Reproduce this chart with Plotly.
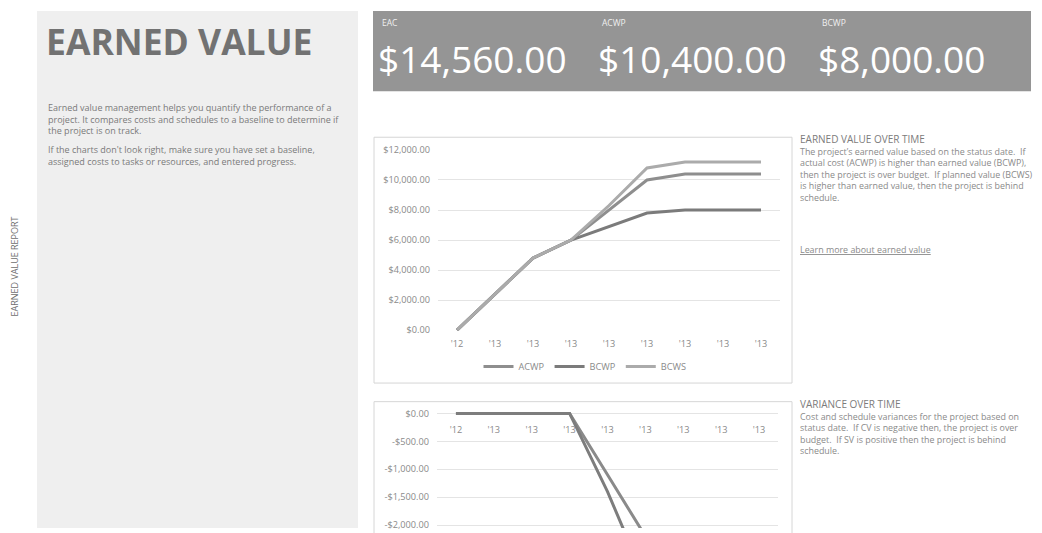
import plotly.graph_objects as go

W, H = 1042, 533

# ---- data -------------------------------------------------------------
periods = list(range(9))
period_labels = ["'12"] + ["'13"] * 8

acwp = [0, 2400, 4800, 6000, 8000, 10000, 10400, 10400, 10400]
bcwp = [0, 2400, 4800, 6000, 6900, 7800, 8000, 8000, 8000]
bcws = [0, 2400, 4800, 6000, 8300, 10800, 11200, 11200, 11200]

cost_variance = [0, 0, 0, 0, -1100, -2200, -2400, -2400, -2400]
schedule_variance = [0, 0, 0, 0, -1400, -3000, -3200, -3200, -3200]

kpi_names = ["EAC", "ACWP", "BCWP"]
kpi_values = [14560.00, 10400.00, 8000.00]

value_ticks = [0, 2000, 4000, 6000, 8000, 10000, 12000]
variance_ticks = [0, -500, -1000, -1500, -2000, -2500, -3000, -3500]

intro_para1 = [
    "Earned value management helps you quantify the performance of a",
    "project. It compares costs and schedules to a baseline to determine if",
    "the project is on track.",
]
intro_para2 = [
    "If the charts don't look right, make sure you have set a baseline,",
    "assigned costs to tasks or resources, and entered progress.",
]
ev_heading = "EARNED VALUE OVER TIME"
ev_lines = [
    "The project\u2019s earned value based on the status date.  If",
    "actual cost (ACWP) is higher than earned value (BCWP),",
    "then the project is over budget.  If planned value (BCWS)",
    "is higher than earned value, then the project is behind",
    "schedule.",
]
ev_link = "Learn more about earned value"
var_heading = "VARIANCE OVER TIME"
var_lines = [
    "Cost and schedule variances for the project based on",
    "status date.  If CV is negative then, the project is over",
    "budget.  If SV is positive then the project is behind",
    "schedule.",
]


def money(v):
    sign = "-" if v < 0 else ""
    return f"{sign}${abs(v):,.2f}"


def fx(px):
    return px / W


def fy(py):
    return 1 - py / H


FONT = "'Open Sans', Lato, sans-serif"
TXT = "#8a8a8a"
HEAD = "#7c7c7c"
GRID = "#e4e4e4"

fig = go.Figure()

# ---- earned value over time -------------------------------------------
for name, vals, col in [("ACWP", acwp, "#8e8e8e"),
                        ("BCWP", bcwp, "#7b7b7b"),
                        ("BCWS", bcws, "#ababab")]:
    fig.add_trace(go.Scatter(x=periods, y=vals, name=name, mode="lines",
                             line=dict(color=col, width=3),
                             xaxis="x", yaxis="y"))

# ---- variance over time -----------------------------------------------
for name, vals, col in [("CV", cost_variance, "#8a8a8a"),
                        ("SV", schedule_variance, "#7d7d7d")]:
    fig.add_trace(go.Scatter(x=periods, y=vals, name=name, mode="lines",
                             line=dict(color=col, width=3),
                             xaxis="x2", yaxis="y2", showlegend=False))

# chart 1 geometry: $0 at 331px, $12,000 at 147px
s1 = (331 - 147) / 12000
pad1 = 60
# chart 2 geometry: $0 at 416px, 28.5px per $500
s2 = 28.5 / 500
zero2 = 416
top2 = 413

tickfont = dict(family=FONT, size=9.2, color=TXT)

fig.update_layout(
    width=W, height=H,
    margin=dict(l=0, r=0, t=0, b=0),
    paper_bgcolor="white",
    plot_bgcolor="rgba(0,0,0,0)",
    font=dict(family=FONT, color=TXT),
    xaxis=dict(domain=[fx(438), fx(780)], range=[-0.5, 8.5],
               tickmode="array", tickvals=periods, ticktext=period_labels,
               showgrid=False, zeroline=False, showline=False, ticks="",
               tickfont=tickfont, anchor="y", ticklabelstandoff=6),
    yaxis=dict(domain=[fy(331 + pad1 * s1), fy(147 - pad1 * s1)],
               range=[-pad1, 12000 + pad1],
               tickmode="array", tickvals=value_ticks,
               ticktext=[money(v) for v in value_ticks],
               showgrid=True, gridcolor=GRID, gridwidth=1,
               zeroline=False, showline=False, ticks="",
               tickfont=tickfont, anchor="x", ticklabelstandoff=7),
    xaxis2=dict(domain=[fx(437), fx(778)], range=[-0.5, 8.5],
                tickmode="array", tickvals=periods, ticktext=period_labels,
                showgrid=False, zeroline=False, showline=False, ticks="",
                tickfont=tickfont, anchor="free", position=fy(zero2),
                ticklabelstandoff=9),
    yaxis2=dict(domain=[0, fy(top2)],
                range=[-(H - zero2) / s2, (zero2 - top2) / s2],
                tickmode="array", tickvals=variance_ticks,
                ticktext=[money(v) for v in variance_ticks],
                showgrid=True, gridcolor=GRID, gridwidth=1,
                zeroline=False, showline=False, ticks="",
                tickfont=tickfont, anchor="x2", ticklabelstandoff=7),
    legend=dict(orientation="h", x=fx(585), xanchor="center",
                y=fy(368), yanchor="middle",
                font=dict(family=FONT, size=9.2, color=TXT),
                bgcolor="rgba(0,0,0,0)", itemwidth=30),
)

# ---- panels -----------------------------------------------------------
shapes = [
    dict(type="rect", xref="paper", yref="paper",
         x0=fx(37), x1=fx(358), y0=0, y1=fy(5),
         fillcolor="#efefef", line=dict(width=0), layer="below"),
    dict(type="rect", xref="paper", yref="paper",
         x0=fx(373), x1=fx(1031), y0=fy(87), y1=fy(5),
         fillcolor="#959595", line=dict(width=0), layer="below"),
    dict(type="rect", xref="paper", yref="paper",
         x0=fx(374), x1=fx(792), y0=fy(385), y1=fy(134),
         fillcolor="white", line=dict(color="#d6d6d6", width=1), layer="below"),
    dict(type="rect", xref="paper", yref="paper",
         x0=fx(374), x1=fx(792), y0=fy(545), y1=fy(404),
         fillcolor="white", line=dict(color="#d6d6d6", width=1), layer="below"),
]
fig.update_layout(shapes=shapes)

ann = []


def text(x, y, s, size, color, **kw):
    d = dict(xref="paper", yref="paper", x=fx(x), y=fy(y), text=s,
             showarrow=False, xanchor="left", yanchor="middle",
             align="left", font=dict(family=FONT, size=size, color=color))
    d.update(kw)
    ann.append(d)


def block(heading, lines, head_size):
    head = f"<span style='font-size:{head_size}px;color:{HEAD}'>{heading}</span>"
    return "<br>".join([head] + lines)


# side label
text(15, 266, "EARNED VALUE REPORT", 9, "#6e6e6e", textangle=-90,
     xanchor="center")

# title and intro
text(44, 36, "<b>EARNED VALUE</b>", 35.5, "#727272")
text(46, 115.5, "<br>".join(intro_para1), 9.0, "#7a7a7a")
text(46, 153, "<br>".join(intro_para2), 9.0, "#7a7a7a")

# KPI banner
for i, (name, val) in enumerate(zip(kpi_names, kpi_values)):
    x0 = 380 + 220 * i
    text(x0, 17, name, 8.5, "#f0f0f0")
    text(x0 - 4, 54, money(val), 37, "#ffffff")

# earned value description
text(798, 165, block(ev_heading, ev_lines, 10), 8.9, TXT)
text(798, 249, f"<u>{ev_link}</u>", 8.9, TXT)

# variance description
text(798, 429.5, block(var_heading, var_lines, 10), 8.9, TXT)

fig.update_layout(annotations=ann)

fig.write_html("out.html")
